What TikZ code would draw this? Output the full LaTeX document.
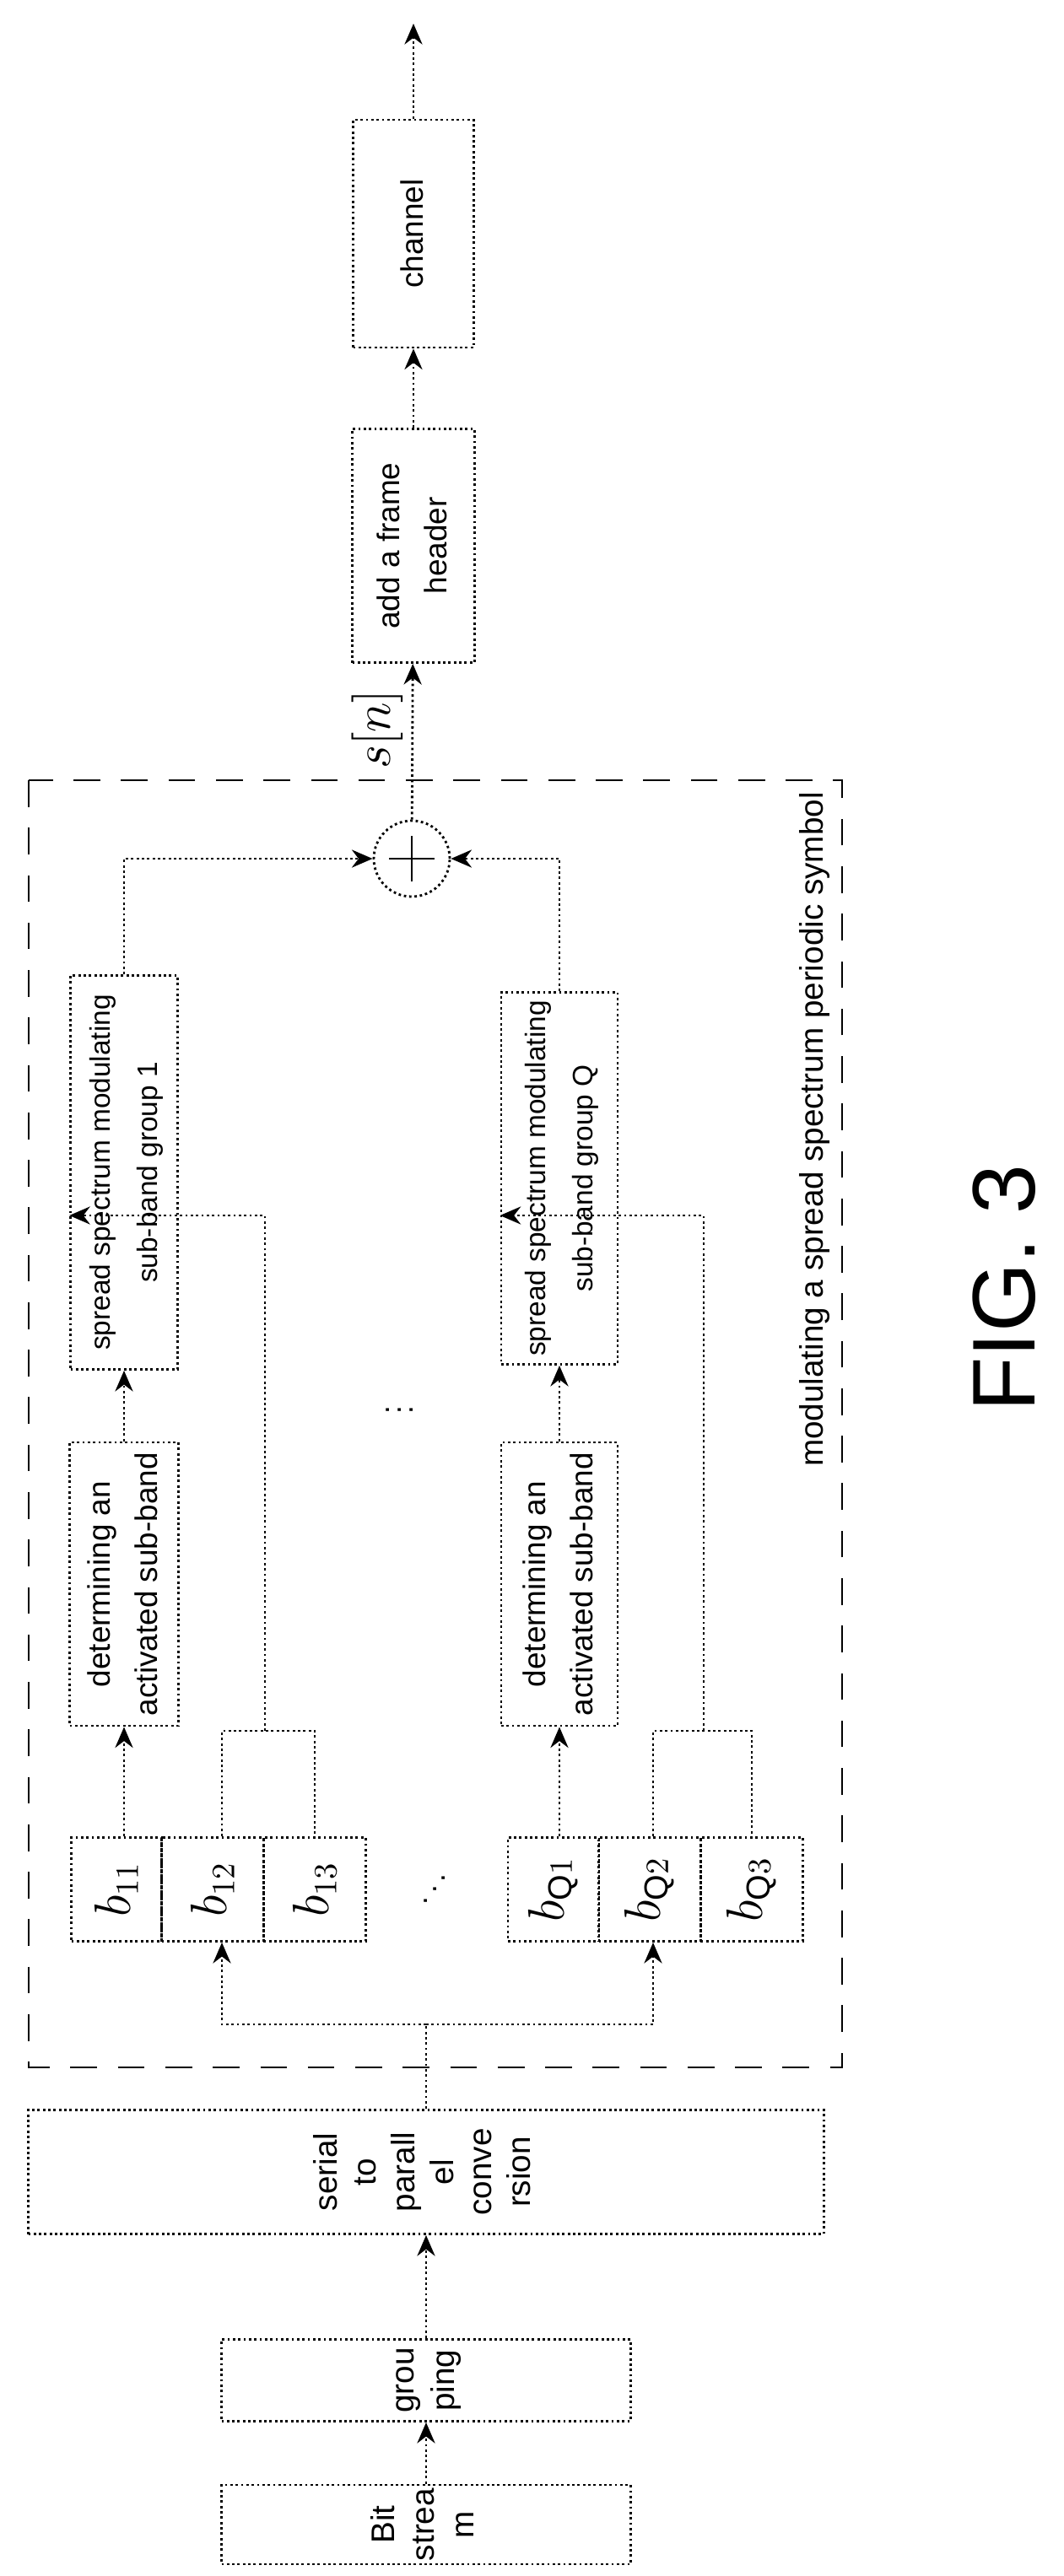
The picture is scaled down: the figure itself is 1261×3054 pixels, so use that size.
\documentclass[tikz,border=0pt]{standalone}
\usepackage{fontspec}
\setmainfont{Liberation Sans}
\usetikzlibrary{calc,arrows.meta}

\tikzset{
  blk/.style={draw,densely dotted,line width=0.8pt,rectangle,inner sep=0pt,
    font=\fontsize{10.5}{16}\selectfont},
  wire/.style={densely dotted,line width=0.8pt},
  arr/.style={wire,-{Stealth[length=7pt,width=6pt]}},
  bit/.style={blk,minimum width=#1*0.01cm,minimum height=123*0.01cm,
    font=\fontsize{16}{16}\selectfont},
}
\newcommand{\rtext}[1]{\rotatebox{90}{\begin{tabular}{@{}c@{}}#1\end{tabular}}}

\begin{document}
\begin{tikzpicture}[x=0.01cm,y=-0.01cm]
\useasboundingbox (0,0) rectangle (1261,3054);

% Input chain.
\node[blk,minimum width=485*0.01cm,minimum height=94*0.01cm,font=\fontsize{11}{13.5}\selectfont]
  (bits) at (505,2993) {\rtext{Bit\\strea\\m}};
\node[blk,minimum width=485*0.01cm,minimum height=97*0.01cm,font=\fontsize{11}{13.5}\selectfont]
  (group) at (505,2822) {\rtext{grou\\ping}};
\node[blk,minimum width=943*0.01cm,minimum height=147*0.01cm,font=\fontsize{11}{13}\selectfont]
  (sp) at (505,2575) {\rtext{serial\\to\\parall\\el\\conve\\rsion}};

% Modulator frame.
\draw[dashed,line width=0.8pt,dash pattern=on 9pt off 7pt] (34,925) rectangle (998,2451);
\node (cap) at (965,1339) {\rotatebox{90}{\fontsize{11}{13}\selectfont modulating a spread spectrum periodic symbol}};

% Bit boxes.
\foreach \n/\x/\w/\t in {b11/138/107/{11},b12/252/121/{12},b13/373/121/{13},
                         bQ1/656/108/{\mathrm{Q}1},bQ2/770/121/{\mathrm{Q}2},bQ3/891/121/{\mathrm{Q}3}} {
    \node[bit=\w] (\n) at (\x,2240) {\rotatebox{90}{$b_{\t}$}};
}
\node (dots1) at (505,2240) {\rotatebox{90}{$\ddots$}};

% Sub-band blocks.
\node[blk,minimum width=129*0.01cm,minimum height=336*0.01cm] (det1) at (147,1878)
  {\rtext{determining an\\activated sub-band}};
\node[blk,minimum width=138*0.01cm,minimum height=336*0.01cm] (detQ) at (663,1878)
  {\rtext{determining an\\activated sub-band}};
\node[blk,minimum width=127*0.01cm,minimum height=467*0.01cm,font=\fontsize{9.5}{16}\selectfont] (spr1) at (147,1390)
  {\rtext{spread spectrum modulating\\sub-band group 1}};
\node[blk,minimum width=138*0.01cm,minimum height=441*0.01cm,font=\fontsize{9.5}{16}\selectfont] (sprQ) at (663,1397)
  {\rtext{spread spectrum modulating\\sub-band group Q}};
\node (dots2) at (463,1672) {\rotatebox{90}{$\vdots$}};

% Adder.
\node[draw,circle,densely dotted,line width=0.8pt,minimum size=90*0.01cm] (add) at (488,1018) {};
\draw[line width=0.8pt] ($(add)+(-27,0)$) -- ($(add)+(27,0)$) ($(add)+(0,-27)$) -- ($(add)+(0,27)$);

% Output chain.
\node[blk,minimum width=145*0.01cm,minimum height=277*0.01cm] (frame) at (490,647)
  {\rtext{add a frame\\header}};
\node[blk,minimum width=143*0.01cm,minimum height=270*0.01cm] (chan) at (490,277)
  {\rtext{channel}};
\node (sn) at (447,865) {\rotatebox{90}{\fontsize{17}{17}\selectfont$s[n]$}};
\coordinate (out) at (490,28);

% Connections.
\coordinate (split) at (505,2400);
\coordinate (br1) at (314,2052);
\coordinate (brQ) at (834,2052);
\coordinate (in1) at (314,1441);
\coordinate (inQ) at (834,1441);
\draw[arr] (bits) -- (group);
\draw[arr] (group) -- (sp);
\draw[wire] (sp) -- (split);
\draw[arr] (split) -| ([xshift=11*0.01cm]b12.south);
\draw[arr] (split) -| ([xshift=4*0.01cm]bQ2.south);
\draw[arr] (det1.south |- b11.north) -- (det1.south);
\draw[arr] (detQ.south |- bQ1.north) -- (detQ.south);
\draw[arr] (det1) -- (spr1);
\draw[arr] (detQ) -- (sprQ);
\draw[wire] ([xshift=11*0.01cm]b12.north) |- (br1) -| (b13.north);
\draw[wire] ([xshift=4*0.01cm]bQ2.north) |- (brQ) -| (bQ3.north);
\draw[arr] (br1) -- (in1) -- (in1 -| spr1.west);
\draw[arr] (brQ) -- (inQ) -- (inQ -| sprQ.west);
\draw[arr] (spr1.north) |- (add.west);
\draw[arr] (sprQ.north) |- (add.east);
\draw[arr] (add) -- (frame);
\draw[arr] (frame) -- (chan);
\draw[arr] (chan) -- (out);

% Figure label.
\node (fig) at (1190,1527) {\rotatebox{90}{\fontsize{30}{30}\selectfont FIG. 3}};
\end{tikzpicture}
\end{document}
